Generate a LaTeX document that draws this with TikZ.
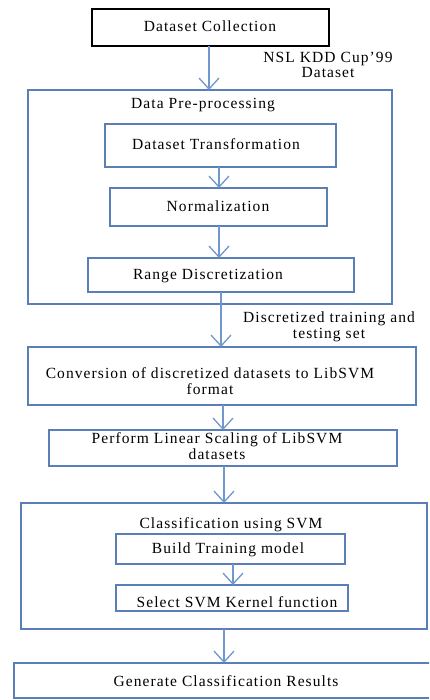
\documentclass[tikz,border=0pt]{standalone}
\usepackage{fontspec}
\setmainfont{Liberation Serif}[LetterSpace=7]
\usetikzlibrary{arrows.meta}
\definecolor{boxc}{HTML}{5A7EB8}
\definecolor{arrc}{HTML}{7098CF}
\tikzset{
  x=1pt, y=-1pt,
  bx/.style={draw=boxc, line width=1.4pt, inner sep=0pt, outer sep=0pt},
  txt/.style={inner sep=0pt, outer sep=0pt, align=center, font=\fontsize{15.5}{16}\selectfont},
  arr/.style={draw=arrc, line width=1.3pt, -{Straight Barb[length=11pt,width=20pt,line width=1.3pt]}}
}
\begin{document}
\begin{tikzpicture}
\clip (0,0) rectangle (429,700);
\fill[white] (0,0) rectangle (429,700);
% boxes
\node[bx, draw=black, minimum width=237, minimum height=37] (dc) at (210.5,27.5) {};
\node[bx, minimum width=364, minimum height=214] (pre) at (210,197) {};
\node[bx, minimum width=231, minimum height=43] (dt) at (220.5,145.5) {};
\node[bx, minimum width=217, minimum height=38] (nm) at (218.5,207) {};
\node[bx, minimum width=266, minimum height=34] (rd) at (221,275) {};
\node[bx, minimum width=388, minimum height=58] (cv) at (222,376) {};
\node[bx, minimum width=348, minimum height=36] (ls) at (223,448) {};
\node[bx, minimum width=406, minimum height=126] (cl) at (224,566) {};
\node[bx, minimum width=229, minimum height=30] (bt) at (230.5,549) {};
\node[bx, minimum width=232, minimum height=26] (sk) at (232,598) {};
\node[bx, minimum width=426, minimum height=35] (gr) at (227,680.5) {};
% texts
\node[txt, anchor=base] (t-dc) at (210,32) {Dataset Collection};
\node[txt] (t-nsl) at (328,64.5) {NSL KDD Cup'99\\[-1pt]Dataset};
\node[txt, anchor=base] (t-pre) at (203,109) {Data Pre-processing};
\node[txt, anchor=base] (t-dt) at (216,150) {Dataset Transformation};
\node[txt, anchor=base] (t-nm) at (218,212) {Normalization};
\node[txt, anchor=base] (t-rd) at (208,279) {Range Discretization};
\node[txt] (t-disc) at (329,326.5) {Discretized training and\\testing set};
\node[txt] (t-cv) at (210,381) {Conversion of discretized datasets to LibSVM\\format};
\node[txt] (t-ls) at (217,446) {Perform Linear Scaling of LibSVM\\datasets};
\node[txt, anchor=base] (t-cl) at (231,528) {Classification using SVM};
\node[txt, anchor=base] (t-bt) at (228,553) {Build Training model};
\node[txt, anchor=base] (t-sk) at (237,607) {Select SVM Kernel function};
\node[txt, anchor=base] (t-gr) at (226,686) {Generate Classification Results};
% arrows
\draw[arr] (dc.south -| 209,0) -- (pre.north -| 209,0);
\draw[arr] (dt.south -| 219,0) -- (nm.north -| 219,0);
\draw[arr] (nm.south -| 219,0) -- (rd.north -| 219,0);
\draw[arr] (rd.south -| 221,0) -- (cv.north -| 221,0);
\draw[arr] (cv.south -| 223,0) -- (ls.north -| 223,0);
\draw[arr] (ls.south -| 224,0) -- (cl.north -| 224,0);
\draw[arr] (bt.south -| 233,0) -- (sk.north -| 233,0);
\draw[arr] (cl.south -| 224,0) -- (gr.north -| 224,0);
\end{tikzpicture}
\end{document}
